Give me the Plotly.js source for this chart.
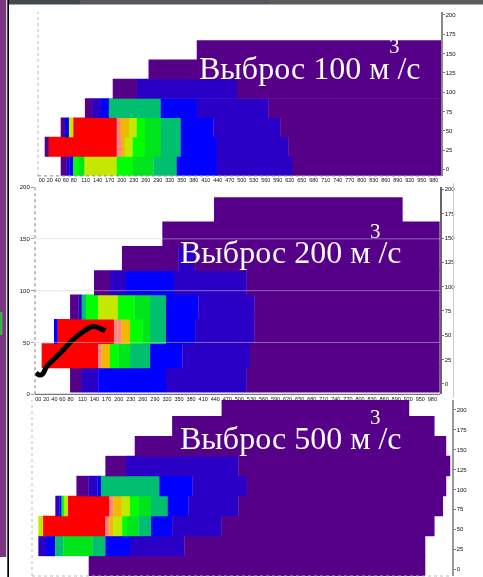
<!DOCTYPE html>
<html><head><meta charset="utf-8">
<script src="https://cdn.plot.ly/plotly-3.0.1.min.js"></script>
<style>html,body{margin:0;padding:0;background:#fff;overflow:hidden}#chart{width:483px;height:577px;filter:blur(0.6px)}</style>
</head><body><div id="chart"></div>
<script>
// Concentration level palette (0 = lowest ... 9 = highest)
const levelColors = ['#56008a','#2a00c6','#0000ff','#00c070','#00e41c','#00ff00','#c4e800','#f0b800','#ff8a80','#ff0000'];

const xTickVals = [0,20,40,60,80,110,140,170,200,230,260,290,320,350,380,410,440,470,500,530,560,590,620,650,680,710,740,770,800,830,860,890,920,950,980];
const xTickText = ['00','20','40','60','80','110','140','170','200','230','260','290','320','350','380','410','440','470','500','530','560','590','620','650','680','710','740','770','800','830','860','890','920','950','980'];
const rightTicks = [0,25,50,75,100,125,150,175,200];
const leftTicks = [0,50,100,150,200];

// Panel 1: 100 m3/s — bands from bottom to top
const p1Edges = [
 [47.5,61,69,79,93,107,187.5,227.5,279,337.5,437.5,627.5,997.5],
 [7.5,17.5,187.5,200,208,227.5,258,297.5,347.5,437.5,617,997.5],
 [47.5,58,68,79,187.5,197.5,218,237.5,258,297.5,347.5,429,596,997.5],
 [108,127.5,148,168,297.5,387.5,567,997.5],
 [177.5,237.5,487.5,997.5],
 [267,997.5],
 [387.5,997.5]
];
const p1Levels = [
 [0,1,2,5,4,6,5,4,3,2,1,0],
 [0,9,8,7,6,5,4,3,2,1,0],
 [0,2,6,9,8,7,6,5,4,3,2,1,0],
 [0,1,2,3,2,1,0],
 [0,1,0],
 [0],
 [0]
];

// Panel 2: 200 m3/s
const p2Edges = [
 [79,108,149,317.5,518,997.5],
 [8.3,149,157.5,178,199,228,278,358,526.5,997.5],
 [39,48,188,207,228,259.5,278,317.5,390,537,997.5],
 [79,99.5,108,118.5,149,198,239,278,317.5,398,537,997.5],
 [138.5,178,218,337.5,518,997.5],
 [208,348,390,997.5],
 [308.5,997.5],
 [437,905.5]
];
const p2Levels = [
 [0,1,2,1,0],
 [9,8,7,5,4,3,2,1,0],
 [2,9,8,7,5,4,3,2,1,0],
 [0,1,3,5,6,5,4,3,2,1,0],
 [0,1,2,1,0],
 [0,1,0],
 [0],
 [0]
];
// Black plume axis drawn over panel 2
const plumeX = [-5.8,2.5,10.8,20.7,41.5,62,87,112,128.5,141,153.4,166.7];
const plumeY = [11.6,9.2,10.3,17.8,26.4,35,45.9,53.8,58.2,58.9,57.2,54.5];

// Panel 3: 500 m3/s
const p3Edges = [
 [133.5,970],
 [8.3,27,50,70.5,142.5,175,236,371.5,970],
 [8.3,20,175,185,195,216.5,228,257,288.5,341,464,993],
 [50.5,60.5,66,73,82,185,195,215.5,236,257,288.5,330,381.5,506,1014],
 [103,132.5,155,164,309,391.5,526.5,1022],
 [175,226,506,1032],
 [248,1022],
 [341,993],
 [464,930]
];
const p3Levels = [
 [0],
 [1,2,3,4,3,2,1,0],
 [6,9,8,7,6,5,4,3,2,1,0],
 [1,2,5,6,9,8,7,6,5,4,3,2,1,0],
 [0,1,2,3,2,1,0],
 [0,1,0],
 [0],
 [0],
 [0]
];

const titles = ['Выброс 100 м\u00a0/с','Выброс 200 м\u00a0/с','Выброс 500 м\u00a0/с'];
const superscript = '3';

const W = 483, H = 577;
const dx = (a,b)=>[a/W,b/W];
const dy = (top,bot)=>[1-bot/H,1-top/H];
const fx = p=>p/W, fy = p=>1-p/H;

function bandTrace(edges, levels, bottom, xa, ya){
  const x=[],base=[],y=[],col=[];
  edges.forEach((e,r)=>{
    for(let i=0;i<e.length-1;i++){
      x.push(e[i+1]-e[i]+0.6); base.push(e[i]); y.push(bottom+25*r+12.5);
      col.push(levelColors[levels[r][i]]);
    }
  });
  return {type:'bar',orientation:'h',x,base,y,width:25.7,xaxis:xa,yaxis:ya,
    marker:{color:col,line:{width:0}},hoverinfo:'skip',showlegend:false};
}

const traces = [
  bandTrace(p1Edges,p1Levels,-8.2,'x','y'),
  bandTrace(p2Edges,p2Levels,-8.5,'x2','y2'),
  bandTrace(p3Edges,p3Levels,-8.3,'x3','y3'),
  {type:'scatter',mode:'lines',x:plumeX,y:plumeY,xaxis:'x2',yaxis:'y2',
   line:{color:'#000',width:5,shape:'spline'},hoverinfo:'skip',showlegend:false}
];

const tickFont = {family:'"Liberation Sans Narrow","Liberation Sans",sans-serif',size:6,color:'#111'};
const xFont = {family:'"Liberation Sans Narrow","Liberation Sans",sans-serif',size:5.5,color:'#111'};

function xAxis(dom,range,anchor,labels){
  return {domain:dom,range,anchor,side:'bottom',tickmode:'array',tickvals:xTickVals,ticktext:xTickText,
    showticklabels:labels,tickfont:xFont,ticks:'',showgrid:false,zeroline:false,showline:false,fixedrange:true,tickangle:0};
}
function yRight(dom,range,anchor,col){
  return {domain:dom,range,anchor,side:'right',tickmode:'array',tickvals:rightTicks,ticktext:rightTicks.map(String),
    tickfont:tickFont,ticks:'outside',ticklen:2,tickcolor:'#777',showgrid:false,zeroline:false,showline:true,linecolor:col,linewidth:1.5,fixedrange:true};
}

const layout = {
  width:W,height:H,margin:{l:0,r:0,t:0,b:0,pad:0},paper_bgcolor:'#fff',plot_bgcolor:'rgba(0,0,0,0)',
  barmode:'overlay',showlegend:false,
  xaxis:xAxis(dx(38,441),[-9.25,998],'y',true),
  yaxis:yRight(dy(11.7,175.7),[-8.2,204],'x','#888'),
  xaxis2:xAxis(dx(35,440),[-8.2,999],'y2',true),
  yaxis2:yRight(dy(187,394.3),[-10.6,202.4],'x2','#666'),
  yaxis4:{domain:dy(187,394.3),range:[0,200],anchor:'x2',side:'left',overlaying:'y2',tickmode:'array',
    tickvals:leftTicks,ticktext:leftTicks.map(String),tickfont:{...tickFont,family:'"Liberation Sans",sans-serif',size:6},ticks:'outside',ticklen:3,tickcolor:'#999',
    showgrid:false,zeroline:false,showline:false,fixedrange:true},
  xaxis3:xAxis(dx(32,452),[-7.5,1037],'y3',false),
  yaxis3:yRight(dy(400,576),[-8.5,212],'x3','#999'),
  shapes:[
    // left photo strip, black frame and top band of the slide
    {type:'rect',xref:'paper',yref:'paper',x0:0,x1:fx(6.2),y0:fy(557),y1:fy(0),fillcolor:'#79377f',line:{width:0}},
    {type:'rect',xref:'paper',yref:'paper',x0:0,x1:fx(2.5),y0:fy(335),y1:fy(312),fillcolor:'#3fae4c',line:{width:0}},
    {type:'rect',xref:'paper',yref:'paper',x0:fx(7.3),x1:fx(9),y0:fy(577),y1:fy(0),fillcolor:'#000',line:{width:0}},
    {type:'rect',xref:'paper',yref:'paper',x0:fx(9),x1:fx(80),y0:fy(4.5),y1:fy(0),fillcolor:'#414a4c',line:{width:0}},
    {type:'rect',xref:'paper',yref:'paper',x0:fx(80),x1:fx(270),y0:fy(4.5),y1:fy(0),fillcolor:'#59555c',line:{width:0}},
    {type:'rect',xref:'paper',yref:'paper',x0:fx(270),x1:fx(483),y0:fy(4.5),y1:fy(0),fillcolor:'#605c59',line:{width:0}},
    // dotted axes
    {type:'line',xref:'paper',yref:'paper',x0:fx(38),x1:fx(38),y0:fy(176),y1:fy(11.7),line:{color:'#bbb',width:1,dash:'dot'}},
    {type:'line',xref:'paper',yref:'paper',x0:fx(38),x1:fx(441),y0:fy(175.9),y1:fy(175.9),line:{color:'#888',width:1,dash:'dot'}},
    {type:'line',xref:'paper',yref:'paper',x0:fx(35),x1:fx(35),y0:fy(394.3),y1:fy(187),line:{color:'#777',width:1,dash:'dot'}},
    {type:'line',xref:'paper',yref:'paper',x0:fx(35),x1:fx(440),y0:fy(394.3),y1:fy(394.3),line:{color:'#555',width:1}},
    {type:'line',xref:'paper',yref:'paper',x0:fx(32),x1:fx(32),y0:fy(576),y1:fy(400),line:{color:'#bbb',width:1,dash:'dot'}},
    {type:'line',xref:'paper',yref:'paper',x0:fx(32),x1:fx(452),y0:fy(576),y1:fy(576),line:{color:'#bbb',width:1,dash:'dot'}},
    {type:'line',xref:'paper',yref:'paper',x0:fx(453.5),x1:fx(453.5),y0:fy(398),y1:fy(183),line:{color:'#ccc',width:1}},
    // panel 2 grid lines
    ...leftTicks.slice(1,4).map(v=>({type:'line',xref:'x2 domain',yref:'y4',x0:0,x1:1,y0:v,y1:v,layer:'above',line:{color:'rgba(205,205,205,0.5)',width:1}}))
  ],
  annotations:[
    ...[[197,68,394,46],[178,252,375,231],[178,438,375,417]].map((p,i)=>[
      {xref:'paper',yref:'paper',x:fx(p[0]),y:fy(p[1]),xanchor:'left',yanchor:'middle',text:titles[i],showarrow:false,
       font:{family:'"Liberation Serif",serif',size:32,color:'#fff'}},
      {xref:'paper',yref:'paper',x:fx(p[2]),y:fy(p[3]),xanchor:'center',yanchor:'middle',text:superscript,showarrow:false,
       font:{family:'"Liberation Serif",serif',size:21,color:'#fff'}}
    ]).flat()
  ]
};
Plotly.newPlot('chart',traces,layout,{staticPlot:true,displayModeBar:false});
</script></body></html>
